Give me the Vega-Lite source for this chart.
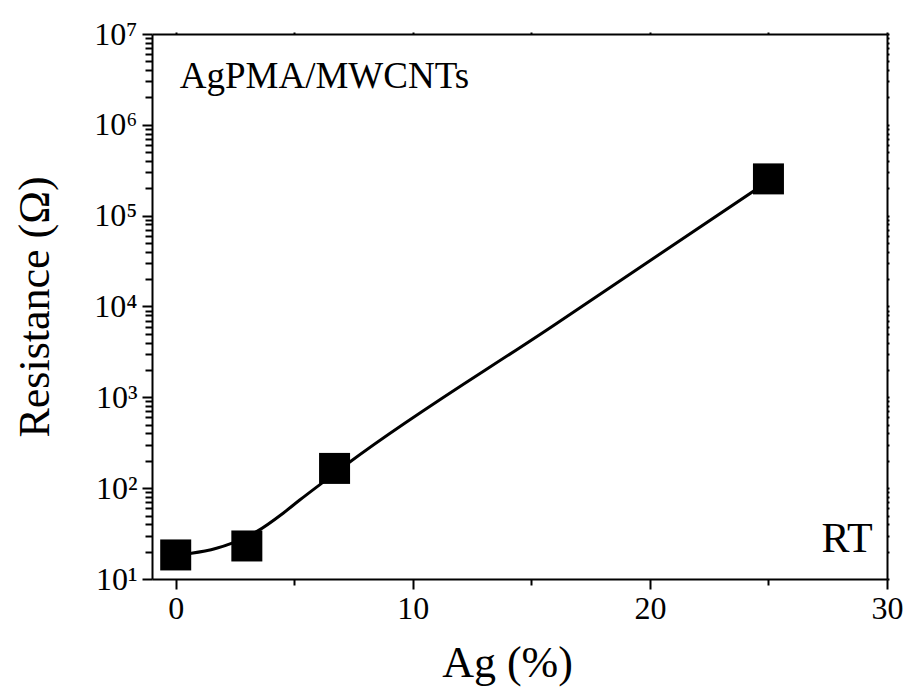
{
  "$schema": "https://vega.github.io/schema/vega-lite/v6.json",
  "width": 735,
  "height": 545,
  "autosize": {"type": "none"},
  "padding": {"left": 152, "top": 34, "right": 22, "bottom": 118},
  "background": "white",
  "config": {
    "view": {"stroke": null},
    "font": "Liberation Serif",
    "axis": {
      "domainColor": "black", "tickColor": "black", "labelColor": "black", "titleColor": "black",
      "domainWidth": 2, "tickWidth": 2, "grid": false, "labelFlush": false, "labelOverlap": false,
      "labelFont": "Liberation Serif", "titleFont": "Liberation Serif",
      "labelFontSize": 32, "titleFontSize": 44, "titleFontWeight": "normal"
    }
  },
  "datasets": {
    "points": [
      {"Ag": 0, "R": 18.4},
      {"Ag": 3, "R": 23.1},
      {"Ag": 6.7, "R": 165},
      {"Ag": 25, "R": 254000}
    ],
    "curve": [
      {"Ag": 0, "R": 18.4},
      {"Ag": 0.66, "R": 19.2},
      {"Ag": 1.72, "R": 21.8},
      {"Ag": 2.35, "R": 24.7},
      {"Ag": 3.41, "R": 33.2},
      {"Ag": 4.53, "R": 53},
      {"Ag": 5.23, "R": 74},
      {"Ag": 6.15, "R": 113},
      {"Ag": 7.27, "R": 188},
      {"Ag": 16, "R": 6350},
      {"Ag": 25, "R": 240000}
    ],
    "labels": [
      {"label": "AgPMA/MWCNTs"}
    ],
    "labels2": [
      {"label": "RT"}
    ]
  },
  "resolve": {"axis": {"x": "independent", "y": "independent"}},
  "layer": [
    {
      "data": {"name": "curve"},
      "mark": {"type": "line", "color": "black", "strokeWidth": 3, "interpolate": "monotone"},
      "encoding": {
        "x": {
          "field": "Ag", "type": "quantitative",
          "scale": {"domain": [-1, 30], "nice": false, "zero": false},
          "axis": {"orient": "bottom", "values": [0, 10, 20, 30], "tickSize": 10, "labelPadding": 4, "title": "Ag (%)", "titlePadding": 17, "titleX": 355}
        },
        "y": {
          "field": "R", "type": "quantitative",
          "scale": {"type": "log", "domain": [10, 10000000], "nice": false},
          "axis": {
            "orient": "left",
            "values": [10, 100, 1000, 10000, 100000, 1000000, 10000000],
            "tickSize": 10, "labelPadding": 5,
            "labelExpr": "'10' + ['⁰','¹','²','³','⁴','⁵','⁶','⁷'][round(log(datum.value)/LN10)]",
            "title": "Resistance (Ω)", "titlePadding": 36
          }
        }
      }
    },
    {
      "data": {"name": "points"},
      "mark": {"type": "point", "shape": "square", "filled": true, "color": "black", "size": 961, "opacity": 1},
      "encoding": {
        "x": {
          "field": "Ag", "type": "quantitative",
          "axis": {"orient": "bottom", "values": [5, 15, 25], "tickSize": 6, "labels": false, "domain": false, "title": null}
        },
        "y": {
          "field": "R", "type": "quantitative",
          "axis": {
            "orient": "left",
            "values": [20, 30, 40, 50, 60, 70, 80, 90, 200, 300, 400, 500, 600, 700, 800, 900, 2000, 3000, 4000, 5000, 6000, 7000, 8000, 9000, 20000, 30000, 40000, 50000, 60000, 70000, 80000, 90000, 200000, 300000, 400000, 500000, 600000, 700000, 800000, 900000, 2000000, 3000000, 4000000, 5000000, 6000000, 7000000, 8000000, 9000000],
            "tickSize": 7, "labels": false, "domain": false, "title": null
          }
        }
      }
    },
    {
      "data": {"name": "labels"},
      "mark": {"type": "text", "align": "left", "baseline": "alphabetic", "font": "Liberation Serif", "fontSize": 37, "color": "black"},
      "encoding": {
        "text": {"field": "label"},
        "x": {"datum": 0.17, "type": "quantitative", "axis": {"orient": "top", "values": [0, 5, 10, 15, 20, 25, 30], "tickSize": 2, "labels": false, "title": null}},
        "y": {"datum": 2550000, "type": "quantitative", "axis": {
          "orient": "right",
          "values": [10, 20, 30, 40, 50, 60, 70, 80, 90, 100, 200, 300, 400, 500, 600, 700, 800, 900, 1000, 2000, 3000, 4000, 5000, 6000, 7000, 8000, 9000, 10000, 20000, 30000, 40000, 50000, 60000, 70000, 80000, 90000, 100000, 200000, 300000, 400000, 500000, 600000, 700000, 800000, 900000, 1000000, 2000000, 3000000, 4000000, 5000000, 6000000, 7000000, 8000000, 9000000, 10000000],
          "tickSize": 2, "labels": false, "title": null}}
      }
    },
    {
      "data": {"name": "labels2"},
      "mark": {"type": "text", "align": "right", "baseline": "alphabetic", "font": "Liberation Serif", "fontSize": 42, "color": "black"},
      "encoding": {
        "text": {"field": "label"},
        "x": {"datum": 29.4, "type": "quantitative", "axis": null},
        "y": {"datum": 19.8, "type": "quantitative", "axis": null}
      }
    }
  ]
}
